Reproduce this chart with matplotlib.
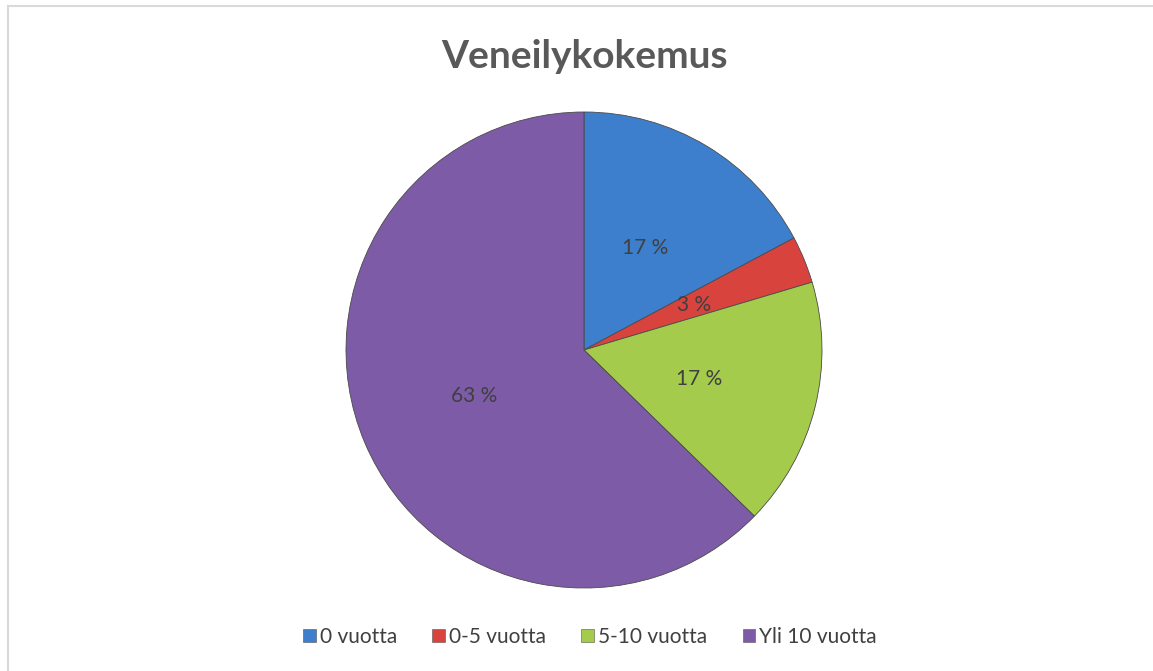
import matplotlib
matplotlib.use("Agg")
import matplotlib.pyplot as plt
from matplotlib.lines import Line2D
from matplotlib.patches import Patch

title = "Veneilykokemus"
categories = ["0 vuotta", "0-5 vuotta", "5-10 vuotta", "Yli 10 vuotta"]
values = [17.2, 3.2, 16.9, 62.7]
colors = ["#3D7FCC", "#D8433E", "#A4CB4B", "#7D5BA6"]

plt.rcParams['font.family'] = ['Lato', 'DejaVu Sans']

W, H = 1153, 671
fig = plt.figure(figsize=(W / 100, H / 100), dpi=100)
fig.patch.set_facecolor("white")

# chart border (top and left visible)
fig.add_artist(Line2D([7.5 / W, 7.5 / W], [0, 1 - 5.5 / H], transform=fig.transFigure,
                      color="#D9D9D9", lw=1.5))
fig.add_artist(Line2D([7.5 / W, 1], [1 - 5.5 / H, 1 - 5.5 / H], transform=fig.transFigure,
                      color="#D9D9D9", lw=1.5))

cx, cy, r = 584, 350, 238
ax = fig.add_axes([(cx - r) / W, (H - cy - r) / H, 2 * r / W, 2 * r / H])
wedges, texts, autotexts = ax.pie(
    values, colors=colors, startangle=90, counterclock=False,
    autopct=lambda p: f"{p:.0f} %", pctdistance=0.5,
    wedgeprops=dict(edgecolor="#4a4a4a", linewidth=0.6),
    textprops=dict(color="#404040", fontsize=15),
)
ax.set_aspect("equal")
ax.set_xlim(-1, 1)
ax.set_ylim(-1, 1)
ax.axis("off")

fig.text(cx / W, 1 - 56 / H, title, ha="center", va="center",
         fontsize=28, fontweight="bold", color="#595959")

handles = [Patch(facecolor=c, edgecolor="#555555", linewidth=0.4) for c in colors]
fig.legend(handles, categories, loc="center", bbox_to_anchor=(590 / W, 1 - 637 / H),
           ncol=4, frameon=False, fontsize=15, handlelength=0.6, handleheight=0.6,
           handletextpad=0.2, columnspacing=1.7, labelcolor="#404040")

fig.savefig("out.png", dpi=100, facecolor="white")
